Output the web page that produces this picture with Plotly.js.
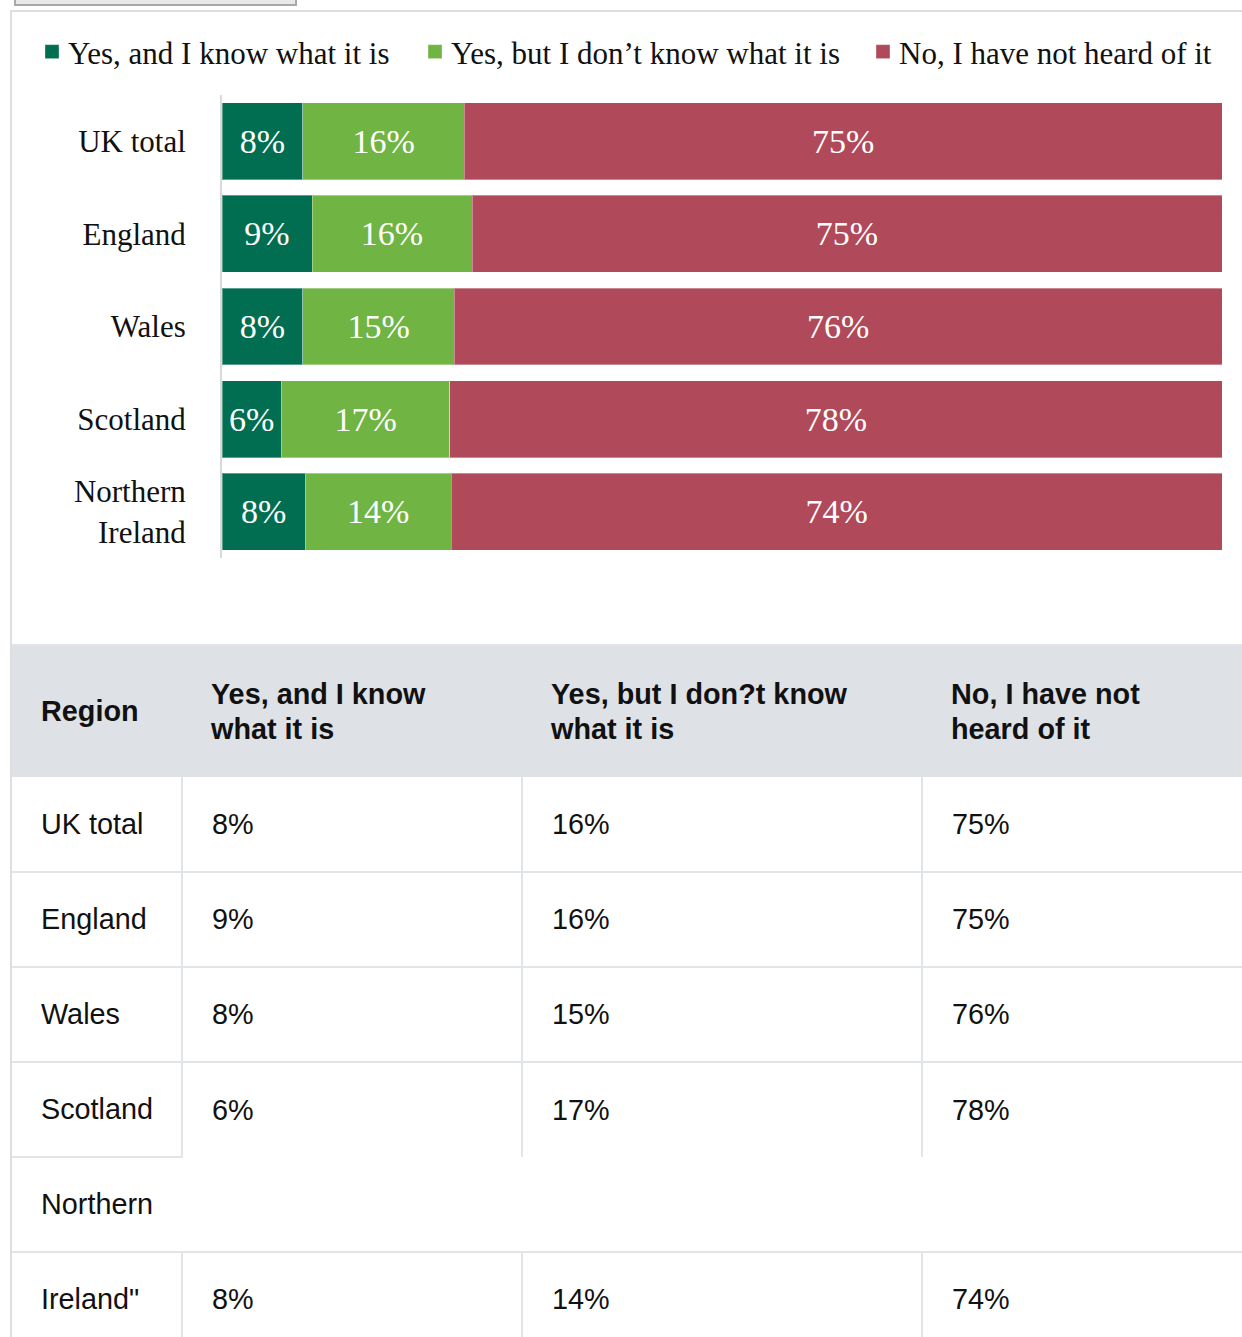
<!DOCTYPE html>
<html><head><meta charset="utf-8">
<script src="https://cdn.plot.ly/plotly-3.0.1.min.js"></script>
<style>
html,body{margin:0;padding:0;background:#fff;width:1242px;height:1337px;overflow:hidden;}
#btn{position:absolute;left:14px;top:-30px;width:283px;height:36px;box-sizing:border-box;border:2px solid #a8a8a8;background:#e8e8e8;}
#frameTop{position:absolute;left:10px;top:10px;width:1232px;height:2px;background:#dedede;}
#frameLeft{position:absolute;left:10px;top:10px;width:2px;height:1327px;background:#dedede;}
#chart{position:absolute;left:12px;top:12px;width:1230px;height:632px;}
#tbl{position:absolute;left:12px;top:644px;border-collapse:collapse;table-layout:fixed;width:1250px;font-family:"Liberation Sans",Arial,sans-serif;font-size:28.8px;color:#111;}
#tbl th,#tbl td{padding:0 0 0 29px;text-align:left;vertical-align:middle;box-sizing:border-box;}
#tbl thead th{background:#dee1e5;height:132px;line-height:35px;font-weight:bold;border-top:2px solid #e2e4e7;}
#tbl td{height:95px;border-bottom:2px solid #e2e5e8;border-right:2px solid #e2e5e8;}
#tbl td:last-child{border-right:none;}
#tbl tr.pre td{border-bottom:none;}
#tbl tr.pre td:first-child{border-bottom:2px solid #e2e5e8;}
#tbl td.solo{border-right:none;}
</style>
</head><body>
<div id="btn"></div>
<div id="frameTop"></div>
<div id="frameLeft"></div>
<div id="chart"></div>
<table id="tbl"><colgroup><col style="width:170px"><col style="width:340px"><col style="width:400px"><col style="width:340px"></colgroup></table>
<script>
const regions = ['UK total','England','Wales','Scotland','Northern<br>Ireland'];
const knowWhat = [8, 9, 8, 6, 8];
const heardOnly = [16, 16, 15, 17, 14];
const notHeard = [75, 75, 76, 78, 74];
const seriesNames = ['Yes, and I know what it is', 'Yes, but I don\u2019t know what it is', 'No, I have not heard of it'];
const seriesColors = ['#016e51', '#70b443', '#b04a5a'];
const tableHeaders = ['Region', 'Yes, and I know\nwhat it is', 'Yes, but I don?t know\nwhat it is', 'No, I have not\nheard of it'];
const tableRegionLabels = ['UK total', 'England', 'Wales', 'Scotland', 'Northern\nIreland"'];

const serif = '"Liberation Serif", "Times New Roman", serif';
const seriesValues = [knowWhat, heardOnly, notHeard];
const legendIds = ['legend', 'legend2', 'legend3'];
const traces = seriesValues.map((vals, k) => ({
  type: 'bar', orientation: 'h',
  y: regions, x: vals, name: seriesNames[k],
  text: vals.map(v => v + '%'),
  textposition: 'inside', insidetextanchor: 'middle', textangle: 0,
  constraintext: 'none',
  textfont: {family: serif, size: 34, color: '#ffffff'},
  marker: {color: seriesColors[k], line: {width: 1, color: 'rgba(255,255,255,0.35)'}},
  hoverinfo: 'none',
  legend: legendIds[k]
}));

const W = 1230, H = 632;
const legendX = [16, 399, 847];
function legendCfg(i) {
  return {
    xref: 'container', yref: 'container', x: legendX[i] / W, y: 1 - 40 / H,
    xanchor: 'left', yanchor: 'middle', orientation: 'h',
    bgcolor: 'rgba(0,0,0,0)', borderwidth: 0,
    font: {family: serif, size: 31, color: '#111'}
  };
}

const layout = {
  width: W, height: H,
  margin: {l: 210, r: 20, t: 83, b: 86},
  paper_bgcolor: '#ffffff', plot_bgcolor: '#ffffff',
  barmode: 'stack', barnorm: 'percent', bargap: 0.17,
  showlegend: true,
  legend: legendCfg(0), legend2: legendCfg(1), legend3: legendCfg(2),
  xaxis: {range: [0, 100], visible: false, fixedrange: true},
  yaxis: {
    type: 'category', autorange: 'reversed', showline: true, linecolor: '#d9d9d9', linewidth: 2,
    ticks: '', ticklabelstandoff: 28, showgrid: false, zeroline: false,
    tickfont: {family: serif, size: 31, color: '#111'}, fixedrange: true
  },
  font: {family: serif, color: '#111'}
};
Plotly.newPlot('chart', traces, layout, {displayModeBar: false, staticPlot: true}).then(gd => {
  // slightly larger legend swatches, placed closer to their text as in the reference
  gd.querySelectorAll('.legendpoints path').forEach(p => p.setAttribute('d', 'M11,7H-3V-7H11Z'));
});

// Data table below the chart, built from the same arrays
const tbl = document.getElementById('tbl');
let html = '<thead><tr>' + tableHeaders.map(h => '<th>' + h.replace('\n', '<br>') + '</th>').join('') + '</tr></thead><tbody>';
tableRegionLabels.forEach((lab, i) => {
  const parts = lab.split('\n');
  const next = tableRegionLabels[i + 1];
  const pre = next && next.indexOf('\n') >= 0;
  let label = lab;
  if (parts.length > 1) {
    html += '<tr><td class="solo" colspan="4">' + parts[0] + '</td></tr>';
    label = parts[1];
  }
  const vals = seriesValues.map(s => s[i] + '%');
  html += '<tr' + (pre ? ' class="pre"' : '') + '><td>' + label + '</td>' + vals.map(v => '<td>' + v + '</td>').join('') + '</tr>';
});
html += '</tbody>';
tbl.insertAdjacentHTML('beforeend', html);
</script>
</body></html>
